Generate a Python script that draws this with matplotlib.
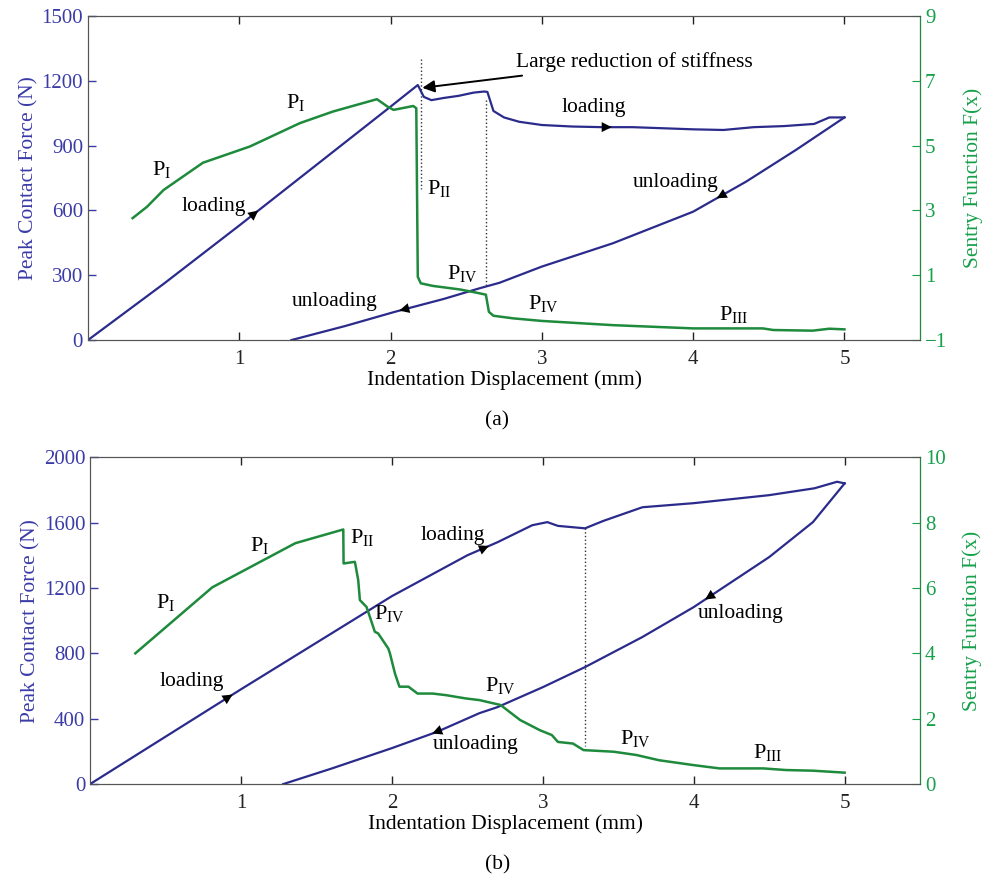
import numpy as np
import matplotlib
matplotlib.use('Agg')
import matplotlib.pyplot as plt

plt.rcParams['font.family'] = ['Liberation Serif', 'DejaVu Serif']
plt.rcParams['mathtext.fontset'] = 'stix'
plt.rcParams['font.size'] = 15

BLUE = '#2b2b8c'
GREEN = '#1e8a3c'
BLUE_TXT = '#3b3ba8'
GREEN_TXT = '#15a04a'

# ---- panel (a) ----
a_load_x = [0, 0.5, 1.0, 1.5, 2.0, 2.18, 2.22, 2.27, 2.35, 2.45, 2.55, 2.62, 2.64, 2.68, 2.75, 2.85, 3.0,
            3.2, 3.4, 3.6, 3.8, 4.0, 4.2, 4.4, 4.6, 4.8, 4.9, 5.0]
a_load_y = [0, 260, 530, 805, 1080, 1180, 1125, 1110, 1120, 1130, 1145, 1150, 1148, 1060, 1030, 1010, 995,
            988, 985, 985, 980, 975, 972, 985, 990, 1000, 1030, 1030]
a_unload_x = [1.345, 1.7, 2.03, 2.35, 2.59, 2.72, 3.0, 3.47, 4.0, 4.35, 4.68, 5.0]
a_unload_y = [0, 65, 131, 190, 240, 265, 340, 448, 594, 733, 880, 1030]
a_sentry_x = [0.295, 0.39, 0.5, 0.76, 1.07, 1.40, 1.62, 1.91, 1.98, 2.02, 2.15, 2.17, 2.18, 2.20, 2.28,
              2.46, 2.57, 2.63, 2.65, 2.68, 2.81, 3.0, 3.47, 4.0, 4.46, 4.53, 4.79, 4.9, 5.0]
a_sentry_y = [2.76, 3.11, 3.63, 4.47, 4.97, 5.69, 6.05, 6.43, 6.20, 6.10, 6.22, 6.15, 0.95, 0.75, 0.67,
              0.56, 0.46, 0.40, -0.13, -0.25, -0.33, -0.41, -0.54, -0.64, -0.64, -0.69, -0.71, -0.65, -0.67]

# ---- panel (b) ----
b_load_x = [0, 0.5, 1.0, 1.5, 2.0, 2.5, 2.7, 2.93, 3.03, 3.1, 3.28, 3.4, 3.66, 4.0, 4.5, 4.8, 4.95, 5.0]
b_load_y = [0, 290, 580, 865, 1150, 1400, 1480, 1584, 1603, 1580, 1565, 1610, 1694, 1719, 1768, 1810, 1850, 1840]
b_unload_x = [1.28, 1.6, 2.0, 2.3, 2.58, 2.7, 3.0, 3.28, 3.66, 4.0, 4.5, 4.79, 5.0]
b_unload_y = [0, 95, 220, 320, 434, 471, 593, 716, 900, 1083, 1389, 1603, 1840]
b_sentry_x = [0.30, 0.81, 1.36, 1.678, 1.68, 1.755, 1.777, 1.788, 1.832, 1.854, 1.887, 1.909, 1.976, 1.987,
              2.02, 2.05, 2.11, 2.17, 2.27, 2.36, 2.49, 2.58, 2.72, 2.85, 2.98, 3.06, 3.10, 3.20, 3.27, 3.47,
              3.62, 3.77, 4.0, 4.17, 4.46, 4.61, 4.79, 5.0]
b_sentry_y = [4.0, 6.02, 7.37, 7.79, 6.75, 6.80, 6.24, 5.63, 5.42, 5.12, 4.66, 4.61, 4.15, 4.0,
              3.39, 2.98, 2.98, 2.77, 2.77, 2.72, 2.62, 2.57, 2.42, 1.96, 1.65, 1.50, 1.29, 1.24, 1.04, 0.99,
              0.89, 0.73, 0.58, 0.48, 0.48, 0.43, 0.41, 0.35]


def sub(base, s):
    return base + r'$_{\mathregular{' + s + '}}$'


def curve_arrow(ax, xs, ys, x0, dx):
    y0 = np.interp(x0, xs, ys)
    y1 = np.interp(x0 + dx, xs, ys)
    ax.annotate('', xy=(x0 + dx, y1), xytext=(x0, y0),
                arrowprops=dict(arrowstyle='-|>', color='black', lw=0, mutation_scale=18))


def setup(ax, ax2, ymax, ystep, rlim, rticks):
    ax.set_xlim(0, 5.5)
    ax.set_ylim(0, ymax)
    ax.set_xticks([1, 2, 3, 4, 5])
    ax.set_yticks(np.arange(0, ymax + 1, ystep))
    ax.tick_params(axis='both', direction='in', length=6, top=True, width=1, color='#444444')
    ax.tick_params(axis='y', colors=BLUE_TXT, labelsize=15)
    ax.tick_params(axis='x', colors='#222222', labelsize=15, pad=7)
    for t in ax.get_yticklines():
        t.set_color('#444444')
    for t in ax.get_xticklines():
        t.set_color('#444444')
    ax2.set_ylim(*rlim)
    ax2.set_yticks(rticks)
    ax2.tick_params(axis='y', direction='in', length=6, colors=GREEN_TXT, labelsize=15)
    for t in ax2.get_yticklines():
        t.set_color(GREEN)
    for s in ['left', 'top', 'bottom']:
        ax.spines[s].set_color('#555555')
        ax2.spines[s].set_color('#555555')
    ax2.spines['right'].set_color(GREEN)
    ax.set_ylabel('Peak Contact Force (N)', color=BLUE_TXT, fontsize=15.5, labelpad=2)
    ax2.set_ylabel('Sentry Function F(x)', color=GREEN_TXT, fontsize=15.5, labelpad=12)
    ax.set_xlabel('Indentation Displacement (mm)', fontsize=15.5, labelpad=1)


fig = plt.figure(figsize=(9.83, 8.81), dpi=100)

# ===== (a) =====
ax = fig.add_axes([0.0895, 0.614, 0.8465, 0.368])
ax2 = ax.twinx()
setup(ax, ax2, 1500, 300, (-1, 9), [-1, 1, 3, 5, 7, 9])
ax.plot(a_load_x, a_load_y, color=BLUE, lw=1.6, zorder=3)
ax.plot(a_unload_x, a_unload_y, color=BLUE, lw=1.6, zorder=3)
ax2.plot(a_sentry_x, a_sentry_y, color=GREEN, lw=1.8)
ax.plot([2.2, 2.2], [1300, 700], ls=':', color='#333333', lw=1)
ax.plot([2.63, 2.63], [1110, 250], ls=':', color='#333333', lw=1)
curve_arrow(ax, a_load_x, a_load_y, 1.08, 0.06)
curve_arrow(ax, a_unload_x, a_unload_y, 2.12, -0.08)
curve_arrow(ax, a_load_x, a_load_y, 3.38, 0.1)
curve_arrow(ax, a_unload_x, a_unload_y, 4.22, -0.08)
ax.annotate('Large reduction of stiffness', xy=(2.21, 1167), xytext=(2.83, 1287),
            va='center', ha='left', fontsize=15.5,
            arrowprops=dict(arrowstyle='-|>', color='black', lw=1.4, mutation_scale=18, shrinkA=6, shrinkB=0))
ax.text(1.31, 1097, sub('P', 'I'), va='center', fontsize=16)
ax.text(0.42, 787, sub('P', 'I'), va='center', fontsize=16)
ax.text(0.62, 620, 'loading', va='center', fontsize=15.5)
ax.text(2.24, 700, sub('P', 'II'), va='center', fontsize=16)
ax.text(2.37, 310, sub('P', 'IV'), va='center', fontsize=16)
ax.text(1.35, 180, 'unloading', va='center', fontsize=15.5)
ax.text(3.13, 1074, 'loading', va='center', fontsize=15.5)
ax.text(3.6, 731, 'unloading', va='center', fontsize=15.5)
ax.text(2.91, 170, sub('P', 'IV'), va='center', fontsize=16)
ax.text(4.17, 120, sub('P', 'III'), va='center', fontsize=16)
fig.text(0.506, 0.522, '(a)', ha='center', va='center', fontsize=15.5)

# ===== (b) =====
bx = fig.add_axes([0.0916, 0.110, 0.8444, 0.371])
bx2 = bx.twinx()
setup(bx, bx2, 2000, 400, (0, 10), [0, 2, 4, 6, 8, 10])
bx.plot(b_load_x, b_load_y, color=BLUE, lw=1.6, zorder=3)
bx.plot(b_unload_x, b_unload_y, color=BLUE, lw=1.6, zorder=3)
bx2.plot(b_sentry_x, b_sentry_y, color=GREEN, lw=1.8)
bx.plot([3.28, 3.28], [1565, 235], ls=':', color='#333333', lw=1)
curve_arrow(bx, b_load_x, b_load_y, 0.9, 0.06)
curve_arrow(bx, b_load_x, b_load_y, 2.58, 0.08)
curve_arrow(bx, b_unload_x, b_unload_y, 2.33, -0.08)
curve_arrow(bx, b_unload_x, b_unload_y, 4.14, -0.08)
bx.text(0.44, 1113, sub('P', 'I'), va='center', fontsize=16)
bx.text(1.06, 1462, sub('P', 'I'), va='center', fontsize=16)
bx.text(1.72, 1511, sub('P', 'II'), va='center', fontsize=16)
bx.text(0.46, 630, 'loading', va='center', fontsize=15.5)
bx.text(1.88, 1046, sub('P', 'IV'), va='center', fontsize=16)
bx.text(2.19, 1523, 'loading', va='center', fontsize=15.5)
bx.text(2.62, 605, sub('P', 'IV'), va='center', fontsize=16)
bx.text(2.27, 240, 'unloading', va='center', fontsize=15.5)
bx.text(4.03, 1046, 'unloading', va='center', fontsize=15.5)
bx.text(3.51, 281, sub('P', 'IV'), va='center', fontsize=16)
bx.text(4.39, 196, sub('P', 'III'), va='center', fontsize=16)
fig.text(0.506, 0.018, '(b)', ha='center', va='center', fontsize=15.5)

fig.savefig('out.png', dpi=100)
